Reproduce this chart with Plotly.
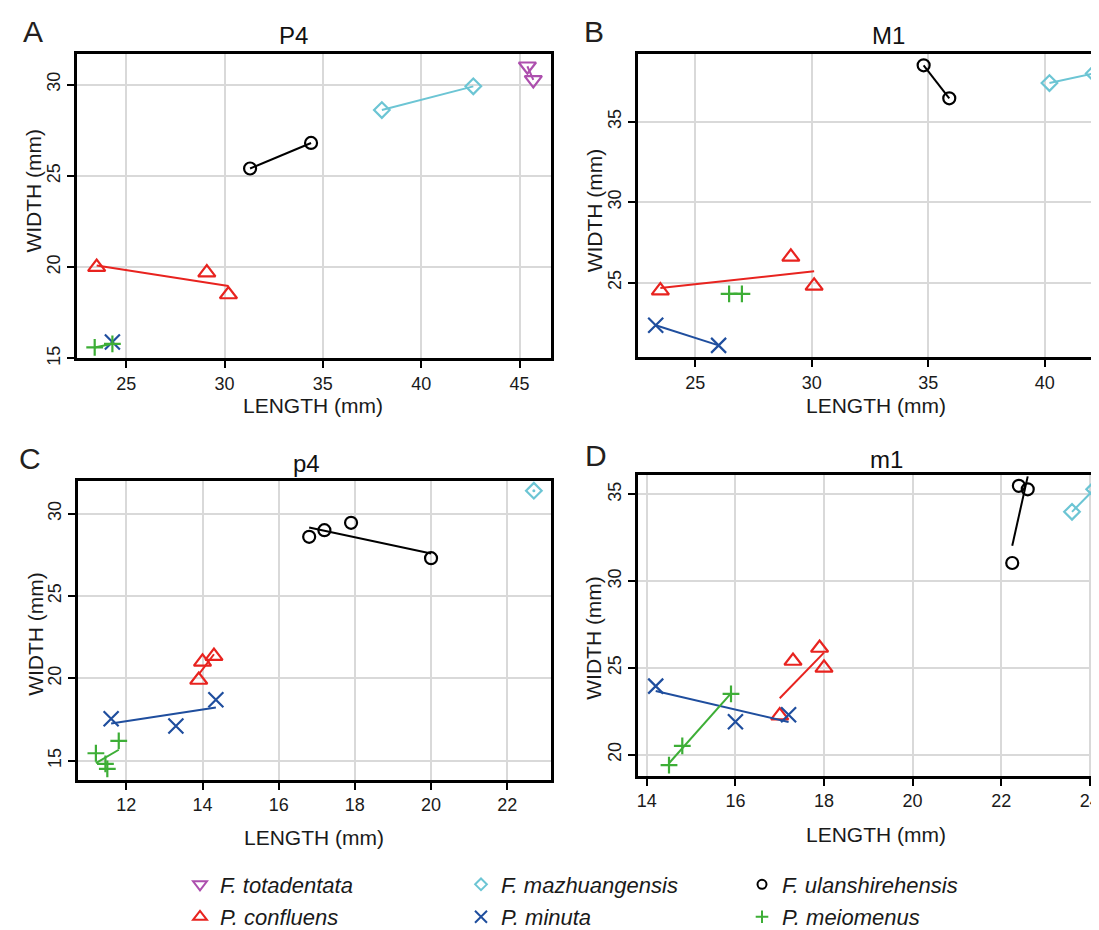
import numpy as np
import plotly.graph_objects as go

W, H = 1099, 930
FONT = "Liberation Sans, Arial, Helvetica, sans-serif"

# ---------------- data ----------------
species = ["F. totadentata", "F. mazhuangensis", "F. ulanshirehensis",
           "P. confluens", "P. minuta", "P. meiomenus"]

# Panel A : P4
A_tot_x = [45.4, 45.7];            A_tot_y = [31.0, 30.25]
A_maz_x = [38.0, 42.65];           A_maz_y = [28.6, 29.9]
A_ula_x = [31.3, 34.4];            A_ula_y = [25.4, 26.8]
A_con_x = [23.5, 29.1, 30.2];      A_con_y = [20.0, 19.7, 18.5]
A_min_x = [24.3];                  A_min_y = [15.9]
A_mei_x = [23.4, 24.3];            A_mei_y = [15.6, 15.8]

# Panel B : M1
B_maz_x = [40.2, 42.1];            B_maz_y = [37.4, 38.0]
B_ula_x = [34.8, 35.9];            B_ula_y = [38.5, 36.45]
B_con_x = [23.5, 29.1, 30.1];      B_con_y = [24.5, 26.6, 24.8]
B_min_x = [23.3, 26.0];            B_min_y = [22.35, 21.1]
B_mei_x = [26.45, 27.0];           B_mei_y = [24.3, 24.3]

# Panel C : p4
C_maz_x = [22.7];                  C_maz_y = [31.4]
C_ula_x = [16.8, 17.2, 17.9, 20.0];  C_ula_y = [28.6, 29.0, 29.45, 27.3]
C_con_x = [14.0, 14.3, 13.9];      C_con_y = [21.0, 21.35, 19.9]
C_min_x = [11.6, 13.3, 14.35];     C_min_y = [17.55, 17.1, 18.7]
C_mei_x = [11.2, 11.45, 11.5, 11.8]; C_mei_y = [15.45, 14.8, 14.5, 16.2]

# Panel D : m1
D_maz_x = [23.6, 24.1];            D_maz_y = [34.0, 35.3]
D_ula_x = [22.25, 22.4, 22.6];     D_ula_y = [31.05, 35.5, 35.3]
D_con_x = [17.0, 17.3, 17.9, 18.0];  D_con_y = [22.25, 25.4, 26.15, 25.0]
D_min_x = [14.2, 16.0, 17.2];      D_min_y = [23.95, 21.9, 22.3]
D_mei_x = [14.5, 14.8, 15.9];      D_mei_y = [19.4, 20.5, 23.5]

panel_titles = ["P4", "M1", "p4", "m1"]
panel_letters = ["A", "B", "C", "D"]
x_ticks = [[25, 30, 35, 40, 45], [25, 30, 35, 40], [12, 14, 16, 18, 20, 22], [14, 16, 18, 20, 22, 24]]
y_ticks = [[15, 20, 25, 30], [25, 30, 35], [15, 20, 25, 30], [20, 25, 30, 35]]
x_ranges = [[22.5, 46.6], [22.54, 42.67], [10.73, 23.15], [13.8, 24.39]]
y_ranges = [[15.0, 31.65], [20.35, 39.18], [13.83, 32.0], [18.77, 36.13]]

panel_data = [
    {"F. totadentata": (A_tot_x, A_tot_y), "F. mazhuangensis": (A_maz_x, A_maz_y),
     "F. ulanshirehensis": (A_ula_x, A_ula_y), "P. confluens": (A_con_x, A_con_y),
     "P. minuta": (A_min_x, A_min_y), "P. meiomenus": (A_mei_x, A_mei_y)},
    {"F. mazhuangensis": (B_maz_x, B_maz_y), "F. ulanshirehensis": (B_ula_x, B_ula_y),
     "P. confluens": (B_con_x, B_con_y), "P. minuta": (B_min_x, B_min_y),
     "P. meiomenus": (B_mei_x, B_mei_y)},
    {"F. mazhuangensis": (C_maz_x, C_maz_y), "F. ulanshirehensis": (C_ula_x, C_ula_y),
     "P. confluens": (C_con_x, C_con_y), "P. minuta": (C_min_x, C_min_y),
     "P. meiomenus": (C_mei_x, C_mei_y)},
    {"F. mazhuangensis": (D_maz_x, D_maz_y), "F. ulanshirehensis": (D_ula_x, D_ula_y),
     "P. confluens": (D_con_x, D_con_y), "P. minuta": (D_min_x, D_min_y),
     "P. meiomenus": (D_mei_x, D_mei_y)},
]

# ---------------- styles ----------------
colors = {"F. totadentata": "#AD4FAE", "F. mazhuangensis": "#6CC5D4",
          "F. ulanshirehensis": "#000000", "P. confluens": "#E8231F",
          "P. minuta": "#1F4E9E", "P. meiomenus": "#3DAE36"}
symbols = {"F. totadentata": "triangle-down-open", "F. mazhuangensis": "diamond-open",
           "F. ulanshirehensis": "circle-open", "P. confluens": "triangle-up-open",
           "P. minuta": "x-thin-open", "P. meiomenus": "cross-thin-open"}
msize = {"F. totadentata": 15, "F. mazhuangensis": 12, "F. ulanshirehensis": 12,
         "P. confluens": 15, "P. minuta": 15, "P. meiomenus": 12}

# pixel boxes of the four panels: (left, right, top, bottom)
boxes = [(69, 543, 47, 355), (630, 1099, 47, 354), (70, 543, 479, 782), (630, 1099, 473, 778)]
letter_pos = [(25, 24), (586, 24), (22, 456), (588, 453)]
title_pos = [(285, 28), (880, 28), (298, 461), (878, 457)]
xlab_pos = [(305, 403), (868, 403), (306, 840), (868, 837)]
ylab_pos = [(26, 185), (586, 205), (28, 634), (586, 638)]

fig = go.Figure()
layout = dict(width=W, height=H, margin=dict(l=0, r=0, t=0, b=0),
              paper_bgcolor="white", plot_bgcolor="white",
              font=dict(family=FONT, color="#1a1a1a"), showlegend=True)

annotations = []

def px2paper(x, y):
    return x / W, 1 - y / H

for i in range(4):
    xa = "x" if i == 0 else f"x{i+1}"
    ya = "y" if i == 0 else f"y{i+1}"
    l, r, t, b = boxes[i]
    right_cut = r >= W
    axis_common = dict(showline=True, linecolor="black", linewidth=2.8,
                       ticks="outside", ticklen=7, tickwidth=2, tickcolor="black",
                       showgrid=True, gridcolor="#D9D9D9", gridwidth=2,
                       zeroline=False, tickfont=dict(size=18, family=FONT, color="#1a1a1a"))
    layout["xaxis" if i == 0 else f"xaxis{i+1}"] = dict(
        axis_common, domain=[l / W, min(r / W, 1.0)], anchor=ya,
        range=x_ranges[i], tickvals=x_ticks[i], mirror=True)
    layout["yaxis" if i == 0 else f"yaxis{i+1}"] = dict(
        axis_common, domain=[1 - b / H, 1 - t / H], anchor=xa,
        range=y_ranges[i], tickvals=y_ticks[i], tickangle=-90,
        mirror=(not right_cut))

    for sp, (xs, ys) in panel_data[i].items():
        c = colors[sp]
        if len(xs) >= 2:
            slope, icpt = np.polyfit(xs, ys, 1)
            xl = np.array([min(xs), max(xs)])
            fig.add_trace(go.Scatter(x=xl, y=slope * xl + icpt, mode="lines",
                                     line=dict(color=c, width=2),
                                     xaxis=xa, yaxis=ya, showlegend=False,
                                     hoverinfo="skip"))
        else:
            # a one-point "fit" shows as a dot at the point
            fig.add_trace(go.Scatter(x=xs, y=ys, mode="markers",
                                     marker=dict(symbol="circle", size=3, color=c),
                                     xaxis=xa, yaxis=ya, showlegend=False,
                                     hoverinfo="skip"))
        fig.add_trace(go.Scatter(x=xs, y=ys, mode="markers",
                                 marker=dict(symbol=symbols[sp], size=msize[sp], color=c,
                                             line=dict(color=c, width=2.2)),
                                 xaxis=xa, yaxis=ya, showlegend=False, name=sp,
                                 cliponaxis=False))

    lx, ly = px2paper(*letter_pos[i])
    annotations.append(dict(text=panel_letters[i], x=lx, y=ly, xref="paper", yref="paper",
                            showarrow=False, xanchor="center", yanchor="middle",
                            font=dict(size=30, color="#231f20")))
    tx, ty = px2paper(*title_pos[i])
    annotations.append(dict(text=panel_titles[i], x=tx, y=ty, xref="paper", yref="paper",
                            showarrow=False, xanchor="center", yanchor="middle",
                            font=dict(size=24, color="#111111")))
    ax_, ay_ = px2paper(*xlab_pos[i])
    annotations.append(dict(text="LENGTH (mm)", x=ax_, y=ay_, xref="paper", yref="paper",
                            showarrow=False, xanchor="center", yanchor="middle",
                            borderpad=0, font=dict(size=21, color="#1a1a1a")))
    bx_, by_ = px2paper(*ylab_pos[i])
    annotations.append(dict(text="WIDTH (mm)", x=bx_, y=by_, xref="paper", yref="paper",
                            showarrow=False, xanchor="center", yanchor="middle",
                            borderpad=0, textangle=-90, font=dict(size=21, color="#1a1a1a")))

# legend: two rows, three columns
row1 = ["F. totadentata", "F. mazhuangensis", "F. ulanshirehensis"]
row2 = ["P. confluens", "P. minuta", "P. meiomenus"]
for leg, names in (("legend", row1), ("legend2", row2)):
    for sp in names:
        c = colors[sp]
        fig.add_trace(go.Scatter(x=[None], y=[None], mode="markers", name=sp,
                                 marker=dict(symbol=symbols[sp], size=msize[sp] - 3, color=c,
                                             line=dict(color=c, width=2)),
                                 xaxis="x", yaxis="y", legend=leg, showlegend=True))

leg_common = dict(orientation="h", entrywidth=236, entrywidthmode="pixels",
                  xanchor="left", yanchor="middle", bgcolor="rgba(0,0,0,0)",
                  font=dict(size=22, family=FONT, color="#1a1a1a", style="italic"),
                  itemwidth=30)
layout["legend"] = dict(leg_common, x=172 / W, y=1 - 888 / H)
layout["legend2"] = dict(leg_common, x=172 / W, y=1 - 921 / H)
layout["annotations"] = annotations

fig.update_layout(**layout)
fig.write_html("out.html")
